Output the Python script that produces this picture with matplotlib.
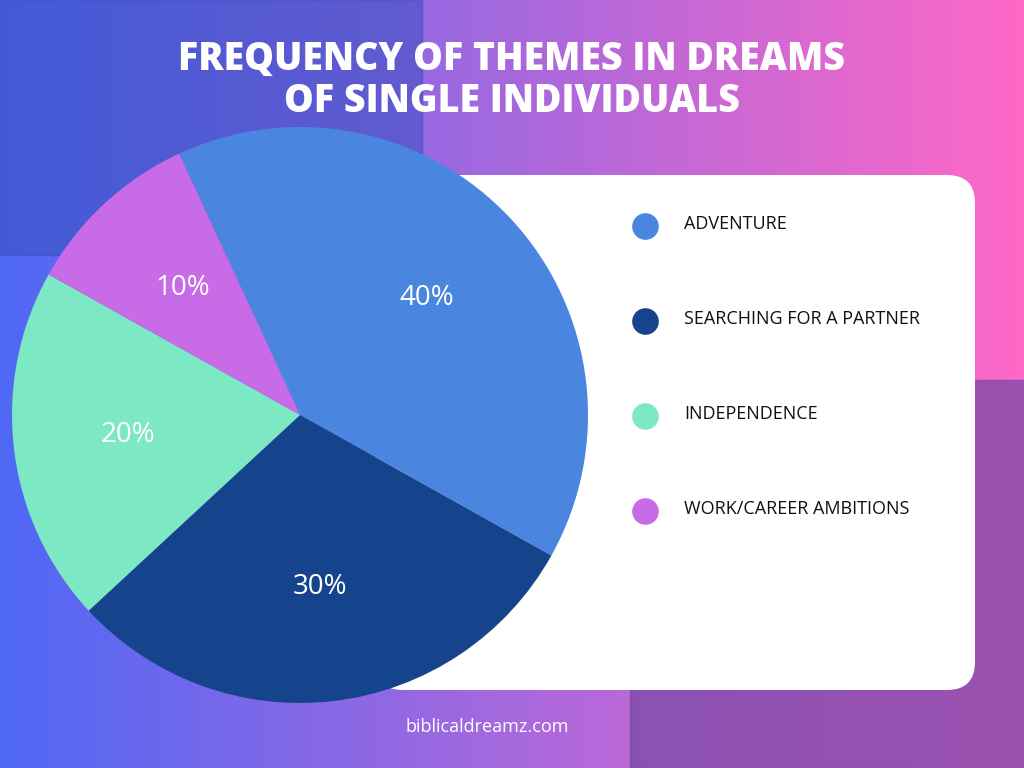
import numpy as np
import matplotlib.pyplot as plt
from matplotlib.patches import FancyBboxPatch, Rectangle

themes = ['ADVENTURE', 'SEARCHING FOR A PARTNER', 'INDEPENDENCE', 'WORK/CAREER AMBITIONS']
shares = [40, 30, 20, 10]
colors = ['#4A86E0', '#16448C', '#7DE8C4', '#C86BE6']

W, H = 1024, 768
fig = plt.figure(figsize=(10.24, 7.68), dpi=100)

# background gradient
bg = fig.add_axes([0, 0, 1, 1])
bg.set_xlim(0, W)
bg.set_ylim(H, 0)
bg.axis('off')
t = np.linspace(0, 1, 256)
left = np.array([0x4F, 0x68, 0xF5]) / 255
right = np.array([0xFF, 0x68, 0xC6]) / 255
grad = (left[None, :] * (1 - t[:, None]) + right[None, :] * t[:, None])[None, :, :]
grad = np.repeat(grad, 2, axis=0)
bg.imshow(grad, extent=[0, W, H, 0], aspect='auto', zorder=0)
# darker decorative blocks
bg.add_patch(Rectangle((0, 0), 422, 255, color='#3850C0', alpha=0.55, zorder=1))
bg.add_patch(Rectangle((630, 380), 394, 388, color='#7A4AA8', alpha=0.75, zorder=1))
bg.add_patch(FancyBboxPatch((375, 175), 600, 515, boxstyle='round,pad=0,rounding_size=28',
                            fc='white', ec='none', zorder=2))

bg.text(512, 80, 'FREQUENCY OF THEMES IN DREAMS\nOF SINGLE INDIVIDUALS', ha='center', va='center',
        color='white', fontsize=27, fontweight='heavy', family='Open Sans', linespacing=1.1, zorder=3)
bg.text(487, 727, 'biblicaldreamz.com', ha='center', va='center', color='white',
        fontsize=13, family='Open Sans', zorder=3)

# legend
for i, (name, c) in enumerate(zip(themes, colors)):
    y = 226 + i * 95
    bg.scatter(645, y, s=330, color=c, zorder=3)
    bg.text(684, y - 2, name, va='center', ha='left', fontsize=13, family='Open Sans',
            color='#111111', zorder=3)

# pie
cx, cy, r = 300, 415, 288
ax = fig.add_axes([(cx - r) / W, 1 - (cy + r) / H, 2 * r / W, 2 * r / H])
ax.set_zorder(5)
wedges, texts, autotexts = ax.pie(shares, colors=colors, startangle=114.8, counterclock=False,
                                  autopct='%d%%', pctdistance=0.6, radius=1,
                                  textprops=dict(color='white', fontsize=20, family='Open Sans'))
ax.set_xlim(-1, 1)
ax.set_ylim(-1, 1)
ax.set_aspect('equal')

plt.savefig('out.png', dpi=100)
